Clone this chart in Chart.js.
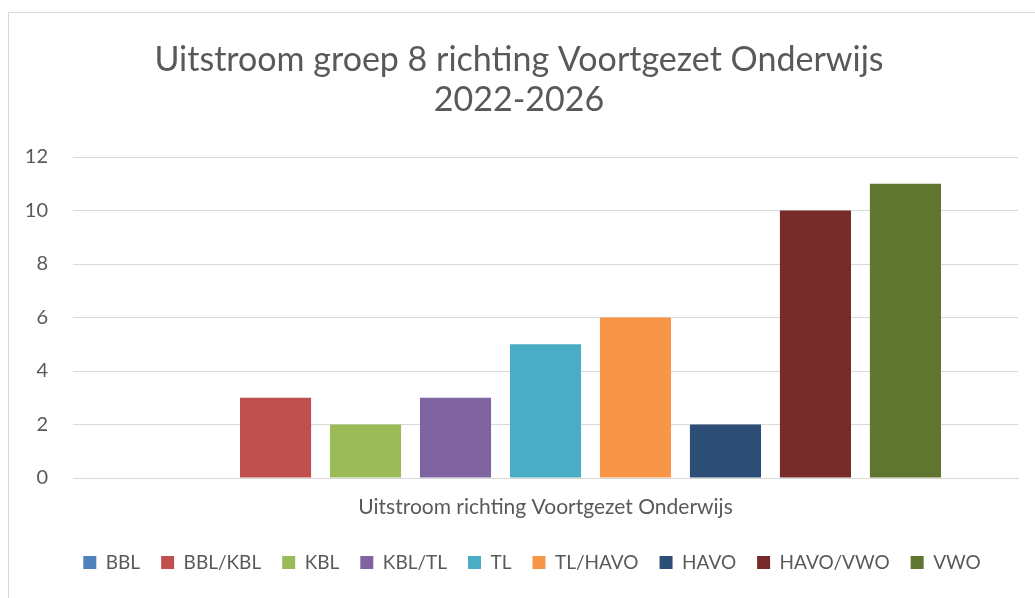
<!DOCTYPE html>
<html>
<head>
<meta charset="utf-8">
<script src="https://cdn.jsdelivr.net/npm/chart.js@4"></script>
<style>
  html, body { margin: 0; padding: 0; background: #fff; }
  #wrap { position: relative; width: 1035px; height: 598px; }
  #frame { position: absolute; left: 8px; top: 12px; right: 0; bottom: 0; border-left: 1px solid #d9d9d9; border-top: 1px solid #d9d9d9; pointer-events: none; }
  canvas { position: absolute; left: 0; top: 0; }
</style>
</head>
<body>
<div id="wrap">
  <canvas id="c" width="1035" height="598"></canvas>
  <div id="frame"></div>
</div>
<script>
const titleLines = ["Uitstroom groep 8 richting Voortgezet Onderwijs", "2022-2026"];
const categories = ["Uitstroom richting Voortgezet Onderwijs"];
const seriesNames = ["BBL", "BBL/KBL", "KBL", "KBL/TL", "TL", "TL/HAVO", "HAVO", "HAVO/VWO", "VWO"];
const seriesValues = [0, 3, 2, 3, 5, 6, 2, 10, 11];
const seriesColors = ["#4f81bd", "#c0504d", "#9bbb59", "#8064a2", "#4bacc6", "#f79646", "#2c4d75", "#772c2a", "#5f7530"];
const yTicks = [0, 2, 4, 6, 8, 10, 12];

const FONT = "Lato, 'Open Sans', sans-serif";
const TEXT = "#595959";

const datasets = seriesNames.map((n, i) => ({
  label: n,
  data: [seriesValues[i]],
  backgroundColor: seriesColors[i],
  borderWidth: 0,
  categoryPercentage: 0.857,
  barPercentage: 0.79
}));

const legendShift = {
  id: 'legendShift',
  beforeDraw(chart) {
    const l = chart.legend;
    if (l && !l._shifted) {
      l.left += 13; l.right += 13; l._shifted = true;
    }
  }
};

new Chart(document.getElementById('c'), {
  type: 'bar',
  data: { labels: categories, datasets },
  plugins: [legendShift],
  options: {
    responsive: false,
    animation: false,
    layout: { padding: { left: 20, right: 17, top: 12, bottom: 16 } },
    plugins: {
      tooltip: { enabled: false },
      title: {
        display: true,
        text: titleLines,
        color: TEXT,
        font: { family: FONT, size: 34, weight: 'normal', lineHeight: 40 / 34 },
        padding: { top: 28, bottom: 37 }
      },
      legend: {
        position: 'bottom',
        labels: {
          color: TEXT,
          font: { family: FONT, size: 19 },
          boxWidth: 13,
          boxHeight: 13,
          padding: 21
        }
      }
    },
    scales: {
      x: {
        grid: { display: false, drawTicks: false },
        border: { display: true, color: '#d9d9d9', width: 1 },
        ticks: { color: TEXT, font: { family: FONT, size: 21 }, padding: 17 },
        afterFit: (s) => { s.height = 54; }
      },
      y: {
        min: 0, max: 12,
        afterBuildTicks: (s) => { s.ticks = yTicks.map(v => ({ value: v })); },
        grid: { color: '#d9d9d9', lineWidth: 1, drawTicks: false },
        border: { display: false },
        ticks: { color: TEXT, font: { family: FONT, size: 20 }, padding: 25 },
        afterFit: (s) => { s.width = 53; }
      }
    }
  }
});
</script>
</body>
</html>
